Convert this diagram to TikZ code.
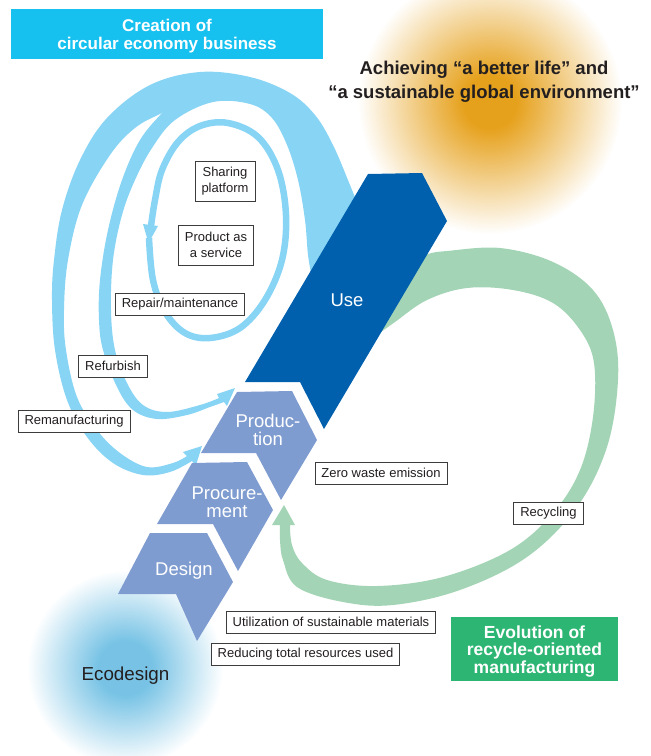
\documentclass[tikz,border=0pt]{standalone}
\usepackage{fontspec}
\setmainfont{Liberation Sans}

\definecolor{usecol}{HTML}{0060AE}
\definecolor{stagecol}{HTML}{7F9CD0}
\definecolor{loopblue}{HTML}{88D4F5}
\definecolor{loopgreen}{HTML}{A3D4B5}
\definecolor{cyanbox}{HTML}{16C1F0}
\definecolor{greenbox}{HTML}{2DB673}
\definecolor{sunorange}{HTML}{E6A11C}
\definecolor{ecoblue}{HTML}{78C3E5}
\definecolor{boxline}{HTML}{3C3C3C}
\definecolor{txt}{HTML}{231F20}

\pgfdeclareradialshading{sunglow}{\pgfpoint{0bp}{0bp}}{color(0bp)=(sunorange); color(5bp)=(sunorange); color(25bp)=(white); color(50bp)=(white)}
\pgfdeclareradialshading{ecoglow}{\pgfpoint{0bp}{0bp}}{color(0bp)=(ecoblue); color(7bp)=(ecoblue); color(25bp)=(white); color(50bp)=(white)}

\tikzset{
  lbl/.style={draw=boxline, fill=white, line width=0.7pt, text=txt,
    font=\fontsize{13}{15.5}\selectfont, inner xsep=6.5pt, inner ysep=5pt,
    minimum height=22pt, align=center},
  stage/.style={text=white, font=\fontsize{18.5}{17.5}\selectfont, align=center},
  headline/.style={text=white, font=\bfseries\fontsize{17}{18.5}\selectfont, align=center}
}

\begin{document}
\begin{tikzpicture}[x=1pt,y=-1pt]
\useasboundingbox (0,0) rectangle (651,756);

% glows
\shade[shading=sunglow] (490,102) circle[radius=132];
\shade[shading=ecoglow] (125,668) circle[radius=98];

% remanufacturing loop
\fill[loopblue] plot[smooth, tension=0.6] coordinates {(362,215) (350,185) (333,145) (315,115) (290,93) (250,77) (200,72) (150,85) (107,118) (80,160) (62,210) (54,260) (52,300) (55,350) (67,400) (87,437) (113,463) (143,475) (170,472) (192,461)}
  -- (196,465) -- (202,446) -- (183,452) -- (187,456)
  -- plot[smooth, tension=0.6] coordinates {(187,456) (173,463) (147,467) (120,453) (97,430) (77,397) (66,350) (64,310) (68,260) (82,205) (110,155) (135,128) (162,113) (200,95) (250,97) (290,118) (315,160) (330,210) (338,250)} -- cycle;

% refurbish loop
\fill[loopblue] plot[smooth, tension=0.6] coordinates {(340,245) (330,190) (310,135) (275,100) (220,86) (180,95) (162,113) (140,140) (122,180) (108,230) (100,280) (99,320) (103,350) (117,387) (133,410) (157,419) (187,415) (210,407) (224,402)}
  -- (227,406) -- (235,388) -- (217,394) -- (219,398)
  -- plot[smooth, tension=0.6] coordinates {(219,398) (200,405) (167,412) (143,405) (127,383) (115,350) (111,310) (113,260) (122,215) (135,180) (152,148) (175,120) (213,102) (250,104) (272,118) (287,145) (298,180) (305,220) (308,255) (312,278)} -- cycle;

% inner loop
\draw[loopblue, line width=6.5pt] plot[smooth, tension=0.6] coordinates {(149,238) (153,280) (165,312) (185,333) (210,338) (240,328) (265,300) (282,260) (286,215) (278,170) (258,137) (228,123) (200,126) (178,142) (162,170) (155,200) (151,226)};
\fill[loopblue] (143,224) -- (158,226) -- (148.5,243) -- cycle;

% recycling loop
\fill[loopgreen] plot[smooth, tension=0.6] coordinates {(410,262) (428,254) (447,251) (500,248) (553,262) (593,290) (613,330) (618,380) (607,447) (577,507) (527,557) (460,590) (393,605) (343,602) (297,587) (283,560) (280,540) (280,525)}
  -- (272,525) -- (284,505) -- (295,525) -- (290,525)
  -- plot[smooth, tension=0.6] coordinates {(290,525) (292,545) (302,563) (327,580) (377,586) (443,577) (510,550) (553,513) (580,470) (593,417) (594,363) (580,330) (553,303) (513,290) (467,288) (427,300) (395,322) (370,340)} -- cycle;

% stages
\fill[usecol] (368,174) -- (422,173) -- (447,221) -- (324,429) -- (300,382) -- (245,382) -- cycle;
\fill[stagecol] (237,392) -- (292,391) -- (317,440) -- (281,500) -- (256,453) -- (201,453) -- cycle;
\fill[stagecol] (192,463) -- (247,462) -- (273,510) -- (238,571) -- (213,524) -- (157,524) -- cycle;
\fill[stagecol] (150,533) -- (207,533) -- (233,582) -- (197,641) -- (176,594) -- (118,594) -- cycle;

\node[stage] (use) at (347,300) {Use};
\node[stage] (production) at (268,430) {Produc-\\tion};
\node[stage] (procurement) at (227,502) {Procure-\\ment};
\node[stage] (design) at (184,571) {Design};
\node[text=txt, font=\fontsize{18.8}{20}\selectfont] (ecodesign) at (125.5,676) {Ecodesign};

% labels
\node[lbl, minimum height=40pt] (sharing) at (225,181) {Sharing\\platform};
\node[lbl, minimum height=40pt] (paas) at (216,245) {Product as\\a service};
\node[lbl] (repair) at (180,304.5) {Repair/maintenance};
\node[lbl] (refurbish) at (113,366) {Refurbish};
\node[lbl] (reman) at (74,421.5) {Remanufacturing};
\node[lbl] (zerowaste) at (381,473) {Zero waste emission};
\node[lbl] (recycling) at (548.5,513.5) {Recycling};
\node[lbl] (sustmat) at (331,622) {Utilization of sustainable materials};
\node[lbl] (reducing) at (305.5,654) {Reducing total resources used};

% headings
\node[fill=cyanbox, minimum width=312pt, minimum height=50pt] (creation) at (167,34) {};
\node[headline] (creationtext) at ([yshift=-2pt]creation.center) {Creation of\\circular economy business};
\node[text=txt, font=\bfseries\fontsize{18.5}{24}\selectfont, align=center] (achieving) at (484,82) {Achieving “a better life” and\\“a sustainable global environment”};
\node[fill=greenbox, minimum width=167pt, minimum height=64pt] (evolution) at (534.5,649) {};
\node[headline, font=\bfseries\fontsize{17.5}{17.5}\selectfont] (evolutiontext) at ([yshift=-2.5pt]evolution.center) {Evolution of\\recycle-oriented\\manufacturing};
\end{tikzpicture}
\end{document}
